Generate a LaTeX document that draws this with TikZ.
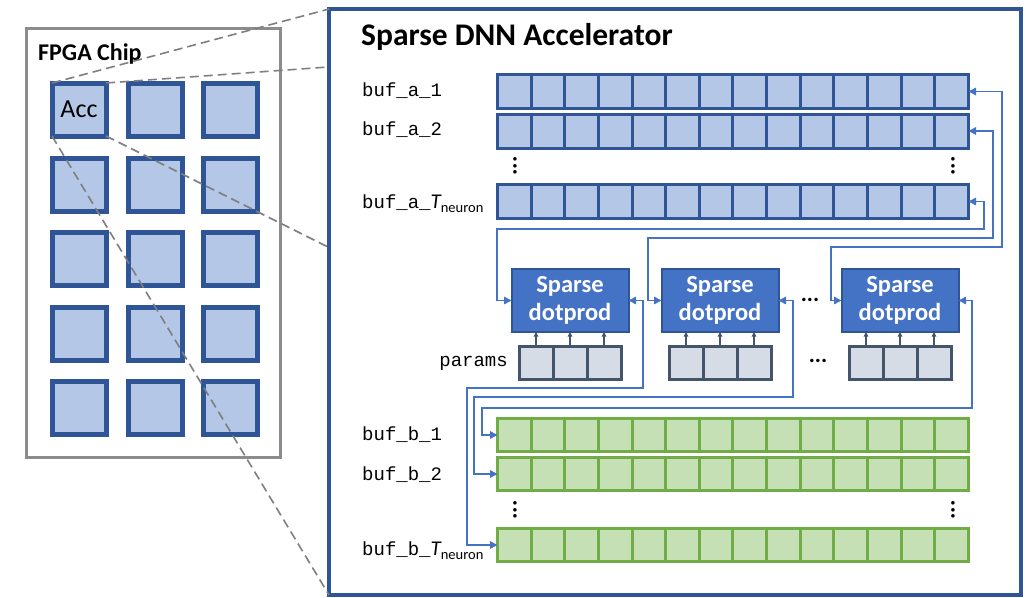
\documentclass[tikz,border=0pt]{standalone}
\usepackage{fontspec}
\setmainfont{Carlito}
\setmonofont{Liberation Mono}
\usetikzlibrary{arrows.meta,calc}
\definecolor{dkblue}{HTML}{2F5597}
\definecolor{ltblue}{HTML}{B4C7E7}
\definecolor{midblue}{HTML}{4472C4}
\definecolor{ltgreen}{HTML}{C5E0B4}
\definecolor{grn}{HTML}{70AD47}
\definecolor{pgray}{HTML}{D6DCE5}
\definecolor{pborder}{HTML}{44546A}
\definecolor{dashgray}{HTML}{7F7F7F}
\definecolor{chipgray}{HTML}{8C8C8C}
\begin{document}
\begin{tikzpicture}[x=1pt,y=-1pt,
  tile/.style={draw=dkblue, fill=ltblue, line width=5pt, minimum width=54pt, minimum height=53pt, inner sep=0pt, outer sep=0pt},
  bufa/.style={draw=dkblue, fill=ltblue, line width=3pt, minimum width=471pt, minimum height=34pt, inner sep=0pt, outer sep=0pt},
  bufb/.style={draw=grn, fill=ltgreen, line width=3pt, minimum width=471pt, minimum height=33.5pt, inner sep=0pt, outer sep=0pt},
  dpbox/.style={draw=dkblue, fill=midblue, line width=2pt, minimum width=117pt, minimum height=63pt, inner sep=0pt, outer sep=0pt, text=white, align=center, font=\bfseries\fontsize{24.5}{28}\selectfont},
  pbox/.style={draw=pborder, fill=pgray, line width=3pt, minimum width=102pt, minimum height=33.5pt, inner sep=0pt, outer sep=0pt},
  mono/.style={font=\ttfamily\fontsize{19}{22}\selectfont, anchor=base west, inner sep=0pt},
  conn/.style={draw=midblue, line width=1.6pt, {Triangle[length=7.5pt,width=7.5pt]}-{Triangle[length=7.5pt,width=7.5pt]}},
  parr/.style={draw=pborder, line width=1.1pt, -{Triangle[length=4.5pt,width=4.5pt]}},
  zoomline/.style={draw=dashgray, line width=1.6pt, dash pattern=on 9pt off 5pt},
  vdot/.style={rotate=90, font=\bfseries\fontsize{24}{24}\selectfont, inner sep=0pt},
  hdot/.style={font=\bfseries\fontsize{23}{23}\selectfont, inner sep=0pt}
]
\useasboundingbox (0,0) rectangle (1030,597);

% FPGA chip
\node[draw=chipgray, line width=3pt, minimum width=254pt, minimum height=429pt, inner sep=0pt, outer sep=0pt] (chip) at (153,242.5) {};
\node[anchor=base west, inner sep=0pt, font=\bfseries\fontsize{24}{26}\selectfont] (chiplbl) at (38,60) {FPGA Chip};
\node[tile, font=\fontsize{26}{28}\selectfont] (t11) at (79,109.5) {Acc};
\foreach \r/\y in {1/109.5,2/184.5,3/259,4/334,5/408}{
  \foreach \c/\x in {1/79,2/155,3/230.5}{
    \ifnum\r\c=11\else
      \node[tile] (t\r\c) at (\x,\y) {};
    \fi
  }
}

% Accelerator box
\node[draw=dkblue, line width=3.5pt, minimum width=692pt, minimum height=586pt, inner sep=0pt, outer sep=0pt] (accbox) at (675,302) {};
\node[anchor=base west, inner sep=0pt, font=\bfseries\fontsize{31.5}{34}\selectfont] (title) at (361,45) {Sparse DNN Accelerator};

% zoom lines
\coordinate (zA) at (328,67);
\coordinate (zB) at (328,247);
\draw[zoomline] (t11.north west) -- (accbox.north west);
\draw[zoomline] (t11.north east) -- (zA);
\draw[zoomline] (t11.south east) -- (zB);
\draw[zoomline] (t11.south west) -- (accbox.south west);

% buffers
\foreach \n/\y in {a1/91.5,a2/131,aT/201.5}{
  \node[bufa] (\n) at (733,\y) {};
  \foreach \i in {1,...,13}{
    \draw[dkblue, line width=3pt, shift={(\n.center)}] (-235.5+\i*33.64,-17) -- (-235.5+\i*33.64,17);
  }
}
\foreach \n/\y in {b1/435,b2/474,bT/545}{
  \node[bufb] (\n) at (733,\y) {};
  \foreach \i in {1,...,13}{
    \draw[grn, line width=3pt, shift={(\n.center)}] (-235.5+\i*33.64,-16.75) -- (-235.5+\i*33.64,16.75);
  }
}

% labels
\node[mono] (la1) at (362,96) {buf\_a\_1};
\node[mono] (la2) at (362,135.5) {buf\_a\_2};
\node[mono] (laT) at (362,208) {buf\_a\_{\rmfamily\itshape\fontsize{21}{22}\selectfont T}\raisebox{-4pt}{\rmfamily\fontsize{14.5}{14}\selectfont neuron}};
\node[mono] (lb1) at (362,440) {buf\_b\_1};
\node[mono] (lb2) at (362,480) {buf\_b\_2};
\node[mono] (lbT) at (362,555) {buf\_b\_{\rmfamily\itshape\fontsize{21}{22}\selectfont T}\raisebox{-4pt}{\rmfamily\fontsize{14.5}{14}\selectfont neuron}};
\node[mono, anchor=base east] (lp) at (508,366) {params};

% vertical dots
\node[vdot] (va1) at (515,166) {...};
\node[vdot] (va2) at (953,166) {...};
\node[vdot] (vb1) at (515,510) {...};
\node[vdot] (vb2) at (953,510) {...};

% dot product units
\node[dpbox] (dp1) at (570,300.5) {Sparse\\dotprod};
\node[dpbox] (dp2) at (720,300.5) {Sparse\\dotprod};
\node[dpbox] (dp3) at (900,300.5) {Sparse\\dotprod};
\node[hdot] (hd1) at (810,300) {...};
\node[hdot] (hd2) at (818,361) {...};

% params
\foreach \k/\x in {1/570,2/720,3/900}{
  \node[pbox] (p\k) at (\x,363) {};
  \draw[pborder, line width=3pt] ($(p\k.center)+(-17,-16.75)$) -- ($(p\k.center)+(-17,16.75)$);
  \draw[pborder, line width=3pt] ($(p\k.center)+(17,-16.75)$) -- ($(p\k.center)+(17,16.75)$);
  \foreach \dx in {-34,0,34}{
    \draw[parr] ($(p\k.north)+(\dx,-1.5)$) -- ($(dp\k.south)+(\dx,0)$);
  }
}

% connectors buf_a <-> dotprod
\draw[conn] (a1.east) -| (1002,247) -| (831,270) |- (dp3.west);
\draw[conn] (a2.east) -| (993,238) -| (648,270) |- (dp2.west);
\draw[conn] (aT.east) -| (984,229) -| (497,270) |- (dp1.west);

% connectors dotprod <-> buf_b
\draw[conn] (dp1.east) -| (643,388) -| (467,500) |- (bT.west);
\draw[conn] (dp2.east) -| (793,397) -| (474,450) |- (b2.west);
\draw[conn] (dp3.east) -| (972,408) -| (482,420) |- (b1.west);
\end{tikzpicture}
\end{document}
